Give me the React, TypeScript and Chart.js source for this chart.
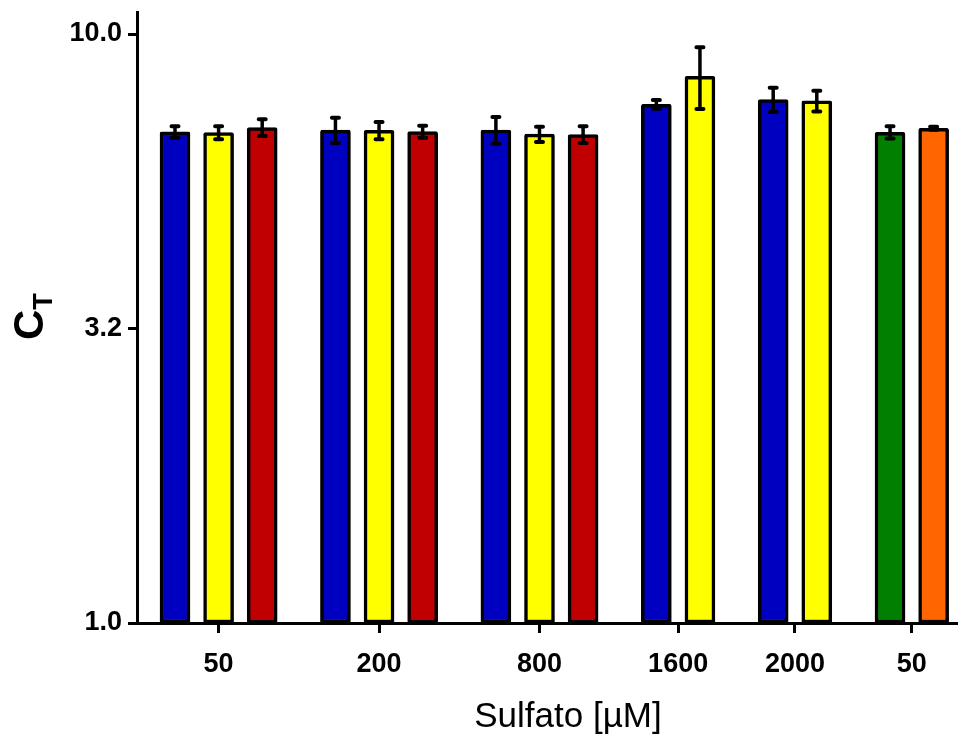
import React, { useEffect, useRef } from 'react';
import { Chart, registerables } from 'chart.js';

Chart.register(...registerables);

// ---- data ----
const groupLabels = ['50', '200', '800', '1600', '2000', '50'];

const blueValues = [6.82, 6.87, 6.87, 7.6, 7.74, null];
const blueErrors = [0.15, 0.34, 0.36, 0.13, 0.37, null];
const yellowValues = [6.8, 6.86, 6.76, 8.48, 7.7, null];
const yellowErrors = [0.17, 0.23, 0.2, 1.02, 0.31, null];
const redValues = [6.94, 6.83, 6.75, null, null, null];
const redErrors = [0.23, 0.16, 0.22, null, null, null];
const greenValues = [null, null, null, null, null, 6.81];
const greenErrors = [null, null, null, null, null, 0.16];
const orangeValues = [null, null, null, null, null, 6.92];
const orangeErrors = [null, null, null, null, null, 0.04];

const yTickValues = [1, 3.162, 10];
const yTickLabels = ['1.0', '3.2', '10.0'];

const xTitle = 'Sulfato [\u00B5M]';
const yTitleMain = 'C';
const yTitleSub = 'T';

// ---- styling / layout ----
const FONT = '"Liberation Sans", Arial, sans-serif';
const GROUP_GAP = 0.68;

const seriesDefs = [
  { name: 'blue', values: blueValues, errors: blueErrors, color: '#0000C0' },
  { name: 'yellow', values: yellowValues, errors: yellowErrors, color: '#FFFF00' },
  { name: 'red', values: redValues, errors: redErrors, color: '#C00000' },
  { name: 'green', values: greenValues, errors: greenErrors, color: '#007F00' },
  { name: 'orange', values: orangeValues, errors: orangeErrors, color: '#FF6600' },
];

function buildLayout() {
  const points: any[][] = seriesDefs.map(() => []);
  const centers: number[] = [];
  let slot = 0;
  groupLabels.forEach((_, g) => {
    const xs: number[] = [];
    seriesDefs.forEach((s, si) => {
      const v = s.values[g];
      if (v !== null && v !== undefined) {
        const x = slot + g * GROUP_GAP;
        points[si].push({ x, y: v, err: s.errors[g] });
        xs.push(x);
        slot++;
      }
    });
    centers.push(xs.reduce((a, b) => a + b, 0) / xs.length);
  });
  return { points, centers };
}

const errorBarPlugin = {
  id: 'errorBars',
  afterDatasetsDraw(chart: any) {
    const ctx = chart.ctx;
    const yScale = chart.scales.y;
    chart.data.datasets.forEach((ds: any, di: number) => {
      const meta = chart.getDatasetMeta(di);
      meta.data.forEach((el: any, i: number) => {
        const p = ds.data[i];
        if (!p || p.err == null) return;
        const top = yScale.getPixelForValue(p.y + p.err);
        const bot = yScale.getPixelForValue(p.y - p.err);
        const x = el.x;
        ctx.save();
        ctx.strokeStyle = '#000';
        ctx.lineWidth = 3.5;
        ctx.lineCap = 'butt';
        ctx.beginPath();
        ctx.moveTo(x, top);
        ctx.lineTo(x, bot);
        ctx.stroke();
        ctx.lineWidth = 4;
        ctx.lineCap = 'round';
        ctx.beginPath();
        ctx.moveTo(x - 3.5, top);
        ctx.lineTo(x + 3.5, top);
        ctx.moveTo(x - 3.5, bot);
        ctx.lineTo(x + 3.5, bot);
        ctx.stroke();
        ctx.restore();
      });
    });
  },
};

const titlesPlugin = {
  id: 'axisTitles',
  afterDraw(chart: any) {
    const ctx = chart.ctx;
    ctx.save();
    ctx.fillStyle = '#000';
    // x title
    ctx.font = `35px ${FONT}`;
    ctx.textAlign = 'center';
    ctx.textBaseline = 'alphabetic';
    ctx.fillText(xTitle, 568, 727);
    // y title (rotated, with subscript)
    ctx.translate(43, 340);
    ctx.rotate(-Math.PI / 2);
    ctx.textAlign = 'left';
    ctx.font = `bold 42px ${FONT}`;
    ctx.fillText(yTitleMain, 0, 0);
    const w = ctx.measureText(yTitleMain).width;
    ctx.font = `bold 27px ${FONT}`;
    ctx.fillText(yTitleSub, w, 9);
    ctx.restore();
  },
};

export default function App() {
  const canvasRef = useRef<HTMLCanvasElement | null>(null);

  useEffect(() => {
    document.body.style.margin = '0';
    const canvas = canvasRef.current;
    if (!canvas) return;
    const { points, centers } = buildLayout();
    const pitch = 43.6;
    const xMin = (137 - 175) / pitch;
    const xMax = (958 - 175) / pitch;

    const chart = new Chart(canvas, {
      type: 'bar',
      data: {
        datasets: seriesDefs.map((s, si) => ({
          label: s.name,
          data: points[si],
          backgroundColor: s.color,
          borderColor: '#000',
          borderWidth: 3.5,
          borderRadius: 2,
          borderSkipped: false,
          barThickness: 30,
          grouped: false,
        })),
      },
      options: {
        responsive: false,
        animation: false,
        devicePixelRatio: 1,
        layout: { padding: { top: 12, right: 0, left: 0, bottom: 0 } },
        plugins: {
          legend: { display: false },
          tooltip: { enabled: false },
        },
        scales: {
          x: {
            type: 'linear',
            min: xMin,
            max: xMax,
            offset: false,
            afterBuildTicks: (scale: any) => {
              scale.ticks = centers.map((c) => ({ value: c }));
            },
            afterFit: (scale: any) => {
              scale.height = 116;
              scale.paddingLeft = 0;
              scale.paddingRight = 0;
            },
            ticks: {
              autoSkip: false,
              maxRotation: 0,
              padding: 15,
              color: '#000',
              font: { family: FONT, size: 27, weight: 'bold' },
              callback: (_v: any, i: number) => groupLabels[i],
            },
            grid: {
              offset: false,
              drawOnChartArea: false,
              drawTicks: true,
              tickLength: 10,
              tickWidth: 3,
              color: '#000',
            },
            border: { display: true, width: 3, color: '#000' },
          },
          y: {
            type: 'logarithmic',
            min: 1,
            max: 10.9,
            afterBuildTicks: (scale: any) => {
              scale.ticks = yTickValues.map((v) => ({ value: v }));
            },
            afterFit: (scale: any) => {
              scale.width = 137;
              scale.paddingTop = 0;
              scale.paddingBottom = 0;
            },
            ticks: {
              autoSkip: false,
              padding: 6,
              color: '#000',
              font: { family: FONT, size: 27, weight: 'bold' },
              callback: (_v: any, i: number) => yTickLabels[i],
            },
            grid: {
              drawOnChartArea: false,
              drawTicks: true,
              tickLength: 9,
              tickWidth: 3,
              color: '#000',
            },
            border: { display: true, width: 3, color: '#000' },
          },
        },
      },
      plugins: [errorBarPlugin, titlesPlugin],
    } as any);

    return () => chart.destroy();
  }, []);

  return (
    <div style={{ width: 958, height: 739, position: 'relative' }}>
      <canvas ref={canvasRef} width={958} height={739} style={{ display: 'block' }} />
    </div>
  );
}
